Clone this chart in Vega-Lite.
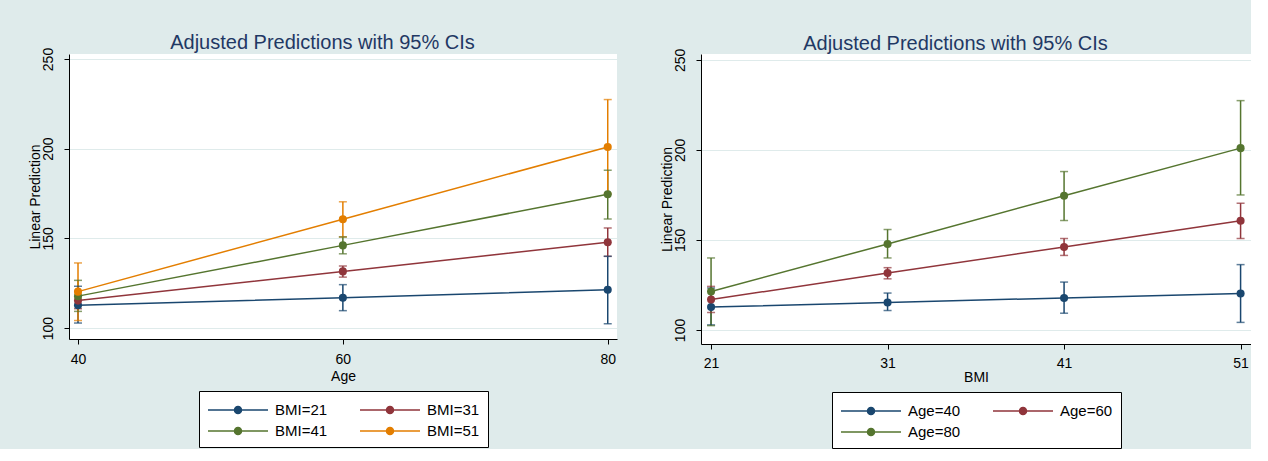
{
  "$schema": "https://vega.github.io/schema/vega-lite/v6.json",
  "background": "#dfebeb",
  "padding": {"left": 28, "top": 33, "right": 0, "bottom": 0},
  "config": {
    "font": "Liberation Sans",
    "view": {"fill": "white", "stroke": null},
    "axis": {
      "domainColor": "#000000", "tickColor": "#000000", "tickSize": 5,
      "labelColor": "#000000", "titleColor": "#000000",
      "labelFontSize": 14, "titleFontSize": 14, "titleFontWeight": "normal",
      "gridColor": "#dfebeb", "gridWidth": 1
    },
    "axisX": {"grid": false, "labelPadding": 8, "titlePadding": 3, "labelFlush": false},
    "axisY": {"grid": true, "labelAngle": -90, "labelAlign": "center", "labelBaseline": "bottom", "labelPadding": 9, "titlePadding": 1, "minExtent": 26, "maxExtent": 26},
    "title": {"fontSize": 20, "fontWeight": "normal", "color": "#1f3864", "offset": -6, "anchor": "middle", "frame": "bounds"},
    "legend": {
      "layout": {"bottom": {"anchor": "middle"}},
      "orient": "bottom", "offset": 8, "columns": 2, "padding": 8,
      "fillColor": "white", "strokeColor": "#000000",
      "labelFontSize": 15, "labelColor": "#000000", "columnPadding": 29, "rowPadding": 2,
      "symbolType": "M-3,0H3M-0.35,0A0.35,0.35 0 1,0 0.35,0A0.35,0.35 0 1,0 -0.35,0",
      "symbolSize": 400, "symbolStrokeWidth": 1.5, "symbolOffset": 20, "labelOffset": 26,
      "symbolOpacity": 1
    }
  },
  "datasets": {
    "byAge": [
      {"age": 40, "grp": "BMI=21", "pred": 112.7, "lo": 102.8, "hi": 123.3},
      {"age": 60, "grp": "BMI=21", "pred": 116.9, "lo": 109.7, "hi": 124.2},
      {"age": 80, "grp": "BMI=21", "pred": 121.4, "lo": 102.4, "hi": 140.0},
      {"age": 40, "grp": "BMI=31", "pred": 115.3, "lo": 110.8, "hi": 120.5},
      {"age": 60, "grp": "BMI=31", "pred": 131.6, "lo": 128.4, "hi": 134.6},
      {"age": 80, "grp": "BMI=31", "pred": 147.8, "lo": 140.0, "hi": 155.8},
      {"age": 40, "grp": "BMI=41", "pred": 117.8, "lo": 109.3, "hi": 126.6},
      {"age": 60, "grp": "BMI=41", "pred": 146.1, "lo": 141.4, "hi": 150.8},
      {"age": 80, "grp": "BMI=41", "pred": 174.6, "lo": 160.8, "hi": 188.0},
      {"age": 40, "grp": "BMI=51", "pred": 120.3, "lo": 104.2, "hi": 136.3},
      {"age": 60, "grp": "BMI=51", "pred": 160.7, "lo": 150.8, "hi": 170.4},
      {"age": 80, "grp": "BMI=51", "pred": 201.0, "lo": 175.0, "hi": 227.4}
    ],
    "byBmi": [
      {"bmi": 21, "grp": "Age=40", "pred": 112.7, "lo": 102.8, "hi": 123.3},
      {"bmi": 31, "grp": "Age=40", "pred": 115.3, "lo": 110.8, "hi": 120.5},
      {"bmi": 41, "grp": "Age=40", "pred": 117.8, "lo": 109.3, "hi": 126.6},
      {"bmi": 51, "grp": "Age=40", "pred": 120.3, "lo": 104.2, "hi": 136.3},
      {"bmi": 21, "grp": "Age=60", "pred": 116.9, "lo": 109.7, "hi": 124.2},
      {"bmi": 31, "grp": "Age=60", "pred": 131.6, "lo": 128.4, "hi": 134.6},
      {"bmi": 41, "grp": "Age=60", "pred": 146.1, "lo": 141.4, "hi": 150.8},
      {"bmi": 51, "grp": "Age=60", "pred": 160.7, "lo": 150.8, "hi": 170.4},
      {"bmi": 21, "grp": "Age=80", "pred": 121.4, "lo": 102.4, "hi": 140.0},
      {"bmi": 31, "grp": "Age=80", "pred": 147.8, "lo": 140.0, "hi": 155.8},
      {"bmi": 41, "grp": "Age=80", "pred": 174.6, "lo": 160.8, "hi": 188.0},
      {"bmi": 51, "grp": "Age=80", "pred": 201.0, "lo": 175.0, "hi": 227.4}
    ]
  },
  "spacing": 43,
  "resolve": {"scale": {"color": "independent"}, "legend": {"color": "independent"}},
  "hconcat": [
    {
      "width": 548, "height": 285,
      "title": "Adjusted Predictions with 95% CIs",
      "data": {"name": "byAge"},
      "encoding": {
        "x": {"field": "age", "type": "quantitative", "title": "Age",
              "scale": {"domain": [39.32, 80.7], "nice": false, "zero": false},
              "axis": {"values": [40, 60, 80]}},
        "color": {"field": "grp", "type": "nominal",
                  "scale": {"domain": ["BMI=21", "BMI=31", "BMI=41", "BMI=51"], "range": ["#1a476f", "#90353b", "#55752f", "#e37e00"]},
                  "legend": {"title": null}}
      },
      "layer": [
        {"mark": {"type": "rule", "strokeWidth": 1.5},
         "encoding": {"y": {"field": "lo", "type": "quantitative", "title": "Linear Prediction",
                            "scale": {"domain": [93.9, 252.8], "nice": false, "zero": false},
                            "axis": {"values": [100, 150, 200, 250]}},
                      "y2": {"field": "hi"}}},
        {"mark": {"type": "tick", "orient": "horizontal", "size": 8, "thickness": 1.5},
         "encoding": {"y": {"field": "lo", "type": "quantitative"}}},
        {"mark": {"type": "tick", "orient": "horizontal", "size": 8, "thickness": 1.5},
         "encoding": {"y": {"field": "hi", "type": "quantitative"}}},
        {"mark": {"type": "line", "strokeWidth": 1.5},
         "encoding": {"y": {"field": "pred", "type": "quantitative"}}},
        {"mark": {"type": "point", "filled": true, "size": 65, "opacity": 1},
         "encoding": {"y": {"field": "pred", "type": "quantitative"}}}
      ]
    },
    {
      "width": 550, "height": 290,
      "title": "Adjusted Predictions with 95% CIs",
      "data": {"name": "byBmi"},
      "encoding": {
        "x": {"field": "bmi", "type": "quantitative", "title": "BMI",
              "scale": {"domain": [20.43, 51.59], "nice": false, "zero": false},
              "axis": {"values": [21, 31, 41, 51], "labelPadding": 7, "titlePadding": 0}},
        "color": {"field": "grp", "type": "nominal",
                  "scale": {"domain": ["Age=40", "Age=60", "Age=80"], "range": ["#1a476f", "#90353b", "#55752f"]},
                  "legend": {"title": null}}
      },
      "layer": [
        {"mark": {"type": "rule", "strokeWidth": 1.5},
         "encoding": {"y": {"field": "lo", "type": "quantitative", "title": "Linear Prediction",
                            "scale": {"domain": [92.2, 253.3], "nice": false, "zero": false},
                            "axis": {"values": [100, 150, 200, 250]}},
                      "y2": {"field": "hi"}}},
        {"mark": {"type": "tick", "orient": "horizontal", "size": 8, "thickness": 1.5},
         "encoding": {"y": {"field": "lo", "type": "quantitative"}}},
        {"mark": {"type": "tick", "orient": "horizontal", "size": 8, "thickness": 1.5},
         "encoding": {"y": {"field": "hi", "type": "quantitative"}}},
        {"mark": {"type": "line", "strokeWidth": 1.5},
         "encoding": {"y": {"field": "pred", "type": "quantitative"}}},
        {"mark": {"type": "point", "filled": true, "size": 65, "opacity": 1},
         "encoding": {"y": {"field": "pred", "type": "quantitative"}}}
      ]
    }
  ]
}
